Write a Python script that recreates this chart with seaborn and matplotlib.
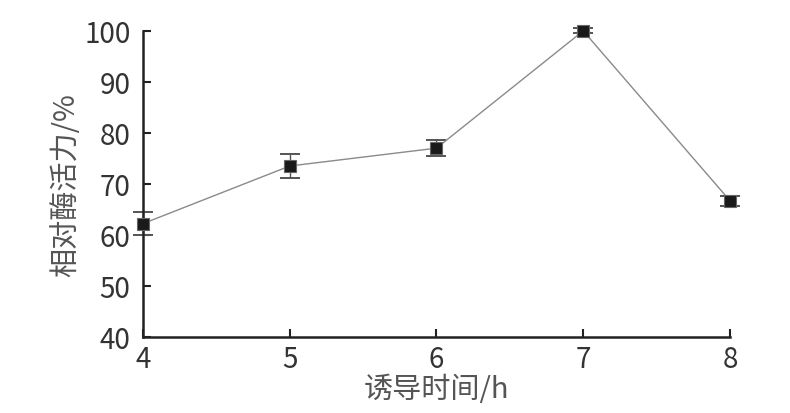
import matplotlib
matplotlib.use("Agg")
import matplotlib.pyplot as plt
import seaborn as sns
import pandas as pd

hours = [4, 5, 6, 7, 8]
activity = [62.2, 73.5, 77.0, 100.0, 66.7]
errors = [2.3, 2.35, 1.6, 0.5, 1.0]
xticks = [4, 5, 6, 7, 8]
yticks = [40, 50, 60, 70, 80, 90, 100]

sns.set_style("ticks")
plt.rcParams['font.family'] = ['Noto Sans CJK SC', 'DejaVu Sans']

df = pd.DataFrame({"h": hours, "a": activity, "e": errors})

fig = plt.figure(figsize=(7.9, 4.14), dpi=100)
ax = fig.add_axes([0.181, 0.184, 0.743, 0.739])

eb = ax.errorbar(df["h"], df["a"], yerr=df["e"], fmt="none", ecolor="#555555",
                 elinewidth=1.0, capsize=7, capthick=1.4, zorder=2)
for art in eb.get_children():
    art.set_clip_on(False)
sns.lineplot(data=df, x="h", y="a", ax=ax, color="#8a8a8a", linewidth=1.0,
             marker="s", markersize=9, markerfacecolor="#1a1a1a",
             markeredgecolor="#666666", markeredgewidth=0.8, zorder=3,
             clip_on=False)

ax.set_xlim(4, 8)
ax.set_ylim(40, 100)
ax.set_xticks(xticks)
ax.set_yticks(yticks)
ax.tick_params(direction="in", length=6, width=1.5, color="#222222",
               labelsize=20, labelcolor="#333333")
ax.tick_params(axis="y", pad=9)
ax.tick_params(axis="x", pad=5)
for s in ["top", "right"]:
    ax.spines[s].set_visible(False)
for s in ["left", "bottom"]:
    ax.spines[s].set_linewidth(1.8)
    ax.spines[s].set_color("#222222")

ax.set_xlabel("诱导时间/h", fontsize=21, color="#555555", labelpad=0)
ax.set_ylabel("相对酶活力/%", fontsize=21, color="#555555", labelpad=2)

fig.savefig("out.png", dpi=100)
